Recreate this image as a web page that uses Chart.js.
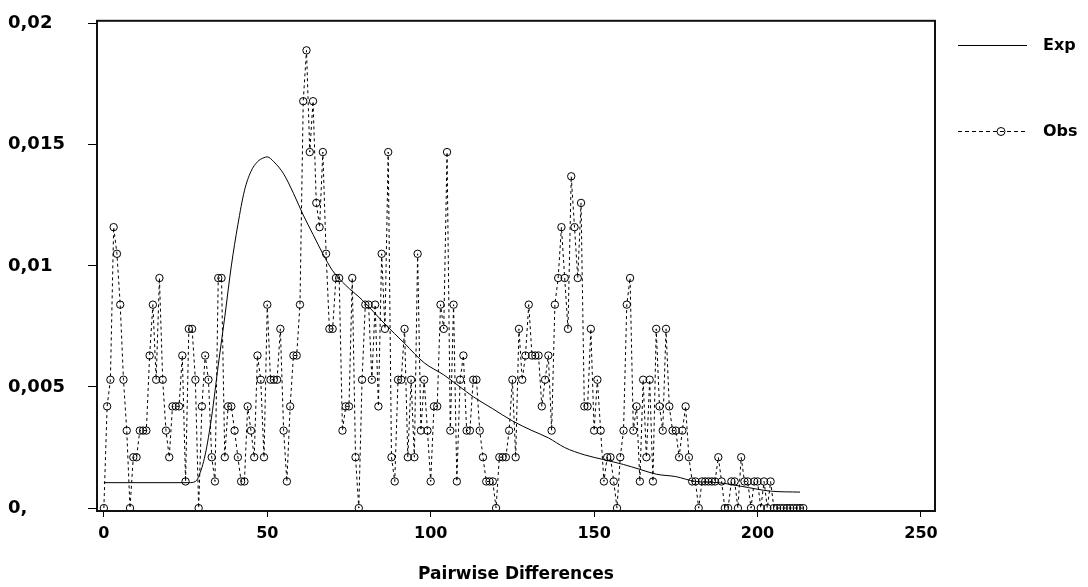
<!DOCTYPE html>
<html lang="en">
<head>
    <meta charset="UTF-8">
    <title>Mismatch Distribution</title>
    <style>
        body { margin: 0; background: #fff; }
        #wrap { width: 1088px; height: 587px; }
    </style>
</head>
<body>
    <div id="wrap"><canvas id="chart" width="1088" height="587"></canvas></div>

    <script src="https://cdn.jsdelivr.net/npm/chart.js"></script>
    <script>
        // pairwise differences (x) and observed frequencies
        const diffs = [
            0, 1, 2, 3, 4, 5, 6, 7, 8, 9, 10, 11, 12, 13, 14, 15, 16, 17, 18, 19,
            20, 21, 22, 23, 24, 25, 26, 27, 28, 29, 30, 31, 32, 33, 34, 35, 36, 37, 38, 39,
            40, 41, 42, 43, 44, 45, 46, 47, 48, 49, 50, 51, 52, 53, 54, 55, 56, 57, 58, 59,
            60, 61, 62, 63, 64, 65, 66, 67, 68, 69, 70, 71, 72, 73, 74, 75, 76, 77, 78, 79,
            80, 81, 82, 83, 84, 85, 86, 87, 88, 89, 90, 91, 92, 93, 94, 95, 96, 97, 98, 99,
            100, 101, 102, 103, 104, 105, 106, 107, 108, 109, 110, 111, 112, 113, 114, 115, 116, 117, 118, 119,
            120, 121, 122, 123, 124, 125, 126, 127, 128, 129, 130, 131, 132, 133, 134, 135, 136, 137, 138, 139,
            140, 141, 142, 143, 144, 145, 146, 147, 148, 149, 150, 151, 152, 153, 154, 155, 156, 157, 158, 159,
            160, 161, 162, 163, 164, 165, 166, 167, 168, 169, 170, 171, 172, 173, 174, 175, 176, 177, 178, 179,
            180, 181, 182, 183, 184, 185, 186, 187, 188, 189, 190, 191, 192, 193, 194, 195, 196, 197, 198, 199,
            200, 201, 202, 203, 204, 205, 206, 207, 208, 209, 210, 211, 212, 213, 214
        ];
        const obsFreq = [
            0, 0.0042, 0.0053, 0.0116, 0.0105, 0.0084, 0.0053, 0.0032, 0, 0.0021,
            0.0021, 0.0032, 0.0032, 0.0032, 0.0063, 0.0084, 0.0053, 0.0095, 0.0053, 0.0032,
            0.0021, 0.0042, 0.0042, 0.0042, 0.0063, 0.0011, 0.0074, 0.0074, 0.0053, 0,
            0.0042, 0.0063, 0.0053, 0.0021, 0.0011, 0.0095, 0.0095, 0.0021, 0.0042, 0.0042,
            0.0032, 0.0021, 0.0011, 0.0011, 0.0042, 0.0032, 0.0021, 0.0063, 0.0053, 0.0021,
            0.0084, 0.0053, 0.0053, 0.0053, 0.0074, 0.0032, 0.0011, 0.0042, 0.0063, 0.0063,
            0.0084, 0.0168, 0.0189, 0.0147, 0.0168, 0.0126, 0.0116, 0.0147, 0.0105, 0.0074,
            0.0074, 0.0095, 0.0095, 0.0032, 0.0042, 0.0042, 0.0095, 0.0021, 0, 0.0053,
            0.0084, 0.0084, 0.0053, 0.0084, 0.0042, 0.0105, 0.0074, 0.0147, 0.0021, 0.0011,
            0.0053, 0.0053, 0.0074, 0.0021, 0.0053, 0.0021, 0.0105, 0.0032, 0.0053, 0.0032,
            0.0011, 0.0042, 0.0042, 0.0084, 0.0074, 0.0147, 0.0032, 0.0084, 0.0011, 0.0053,
            0.0063, 0.0032, 0.0032, 0.0053, 0.0053, 0.0032, 0.0021, 0.0011, 0.0011, 0.0011,
            0, 0.0021, 0.0021, 0.0021, 0.0032, 0.0053, 0.0021, 0.0074, 0.0053, 0.0063,
            0.0084, 0.0063, 0.0063, 0.0063, 0.0042, 0.0053, 0.0063, 0.0032, 0.0084, 0.0095,
            0.0116, 0.0095, 0.0074, 0.0137, 0.0116, 0.0095, 0.0126, 0.0042, 0.0042, 0.0074,
            0.0032, 0.0053, 0.0032, 0.0011, 0.0021, 0.0021, 0.0011, 0, 0.0021, 0.0032,
            0.0084, 0.0095, 0.0032, 0.0042, 0.0011, 0.0053, 0.0021, 0.0053, 0.0011, 0.0074,
            0.0042, 0.0032, 0.0074, 0.0042, 0.0032, 0.0032, 0.0021, 0.0032, 0.0042, 0.0021,
            0.0011, 0.0011, 0, 0.0011, 0.0011, 0.0011, 0.0011, 0.0011, 0.0021, 0.0011,
            0, 0, 0.0011, 0.0011, 0, 0.0021, 0.0011, 0.0011, 0, 0.0011,
            0.0011, 0, 0.0011, 0, 0.0011, 0, 0, 0, 0, 0,
            0, 0, 0, 0, 0
        ];

        // expected curve, read at a set of x positions
        const expX = [0, 26, 28, 29, 31, 33, 35, 37, 39, 41, 43, 45, 47, 49, 50, 52, 55, 58, 61, 64,
            67, 70, 74, 79, 86, 92, 98, 104, 109, 113, 119, 125, 131, 136, 141, 147, 153, 159, 164, 169,
            175, 181, 188, 195, 204, 213];
        const expY = [0.00105, 0.00105, 0.0011, 0.0013, 0.0022, 0.0038, 0.0059, 0.0079, 0.0100, 0.0117,
            0.0131, 0.0139, 0.0143, 0.01447, 0.0145, 0.0143, 0.0138, 0.0130, 0.0121, 0.0113,
            0.0105, 0.0098, 0.0092, 0.0086, 0.0076, 0.0068, 0.0060, 0.0055, 0.0050, 0.0046,
            0.0041, 0.0036, 0.0032, 0.0029, 0.0025, 0.0022, 0.0020, 0.0018, 0.0016, 0.0014,
            0.0013, 0.0011, 0.00105, 0.0009, 0.0007, 0.00066];

        const xTicks = [0, 50, 100, 150, 200, 250];
        const yTicks = [0, 0.005, 0.01, 0.015, 0.02];
        const yTickLabels = ['0,', '0,005', '0,01', '0,015', '0,02'];

        const FONT = '"DejaVu Sans", sans-serif';

        // frame + legend drawn by hand (legend has a line sample with a marker)
        const framePlugin = {
            id: 'frame',
            afterDraw(chart) {
                const { ctx, chartArea: a } = chart;
                ctx.save();
                ctx.strokeStyle = '#111';
                ctx.lineWidth = 2;
                ctx.strokeRect(a.left, a.top, a.right - a.left, a.bottom - a.top);

                ctx.font = 'bold 16px ' + FONT;
                ctx.fillStyle = '#000';
                ctx.textBaseline = 'middle';

                // Exp
                ctx.lineWidth = 1;
                ctx.strokeStyle = '#000';
                ctx.beginPath();
                ctx.moveTo(958, 45.5);
                ctx.lineTo(1027, 45.5);
                ctx.stroke();
                ctx.fillText('Exp', 1043, 46);

                // Obs
                ctx.setLineDash([4, 3]);
                ctx.beginPath();
                ctx.moveTo(958, 131.5);
                ctx.lineTo(1027, 131.5);
                ctx.stroke();
                ctx.setLineDash([]);
                ctx.beginPath();
                ctx.arc(1001, 131.5, 4, 0, Math.PI * 2);
                ctx.stroke();
                ctx.fillText('Obs', 1043, 132);
                ctx.restore();
            }
        };

        const ctx = document.getElementById('chart').getContext('2d');
        const chart = new Chart(ctx, {
            type: 'scatter',
            data: {
                datasets: [{
                    label: 'Exp',
                    data: expX.map((x, i) => ({ x: x, y: expY[i] })),
                    showLine: true,
                    borderColor: '#000',
                    borderWidth: 1,
                    pointRadius: 0,
                    cubicInterpolationMode: 'monotone',
                    order: 1
                }, {
                    label: 'Obs',
                    data: diffs.map((x, i) => ({ x: x, y: obsFreq[i] })),
                    showLine: true,
                    borderColor: '#000',
                    borderWidth: 1,
                    borderDash: [3, 3],
                    pointRadius: 3.7,
                    pointBorderWidth: 1,
                    pointBorderColor: '#000',
                    pointBackgroundColor: 'rgba(0,0,0,0)',
                    order: 2
                }]
            },
            options: {
                responsive: false,
                animation: false,
                layout: { padding: { left: 8, right: 153, top: 15, bottom: 0 } },
                plugins: {
                    legend: { display: false },
                    tooltip: { enabled: false }
                },
                scales: {
                    x: {
                        type: 'linear',
                        min: -2.1,
                        max: 254.3,
                        afterBuildTicks: axis => { axis.ticks = xTicks.map(v => ({ value: v })); },
                        afterFit: axis => { axis.height = 76; },
                        border: { display: false },
                        grid: { drawOnChartArea: false, drawTicks: true, tickLength: 6, color: '#000' },
                        ticks: {
                            color: '#000',
                            padding: 7,
                            maxRotation: 0,
                            font: { family: FONT, size: 16, weight: 'bold' }
                        },
                        title: {
                            display: true,
                            text: 'Pairwise Differences',
                            color: '#000',
                            padding: { top: 0, bottom: 2 },
                            font: { family: FONT, size: 17, weight: 'bold' }
                        }
                    },
                    y: {
                        min: -0.00012,
                        max: 0.02012,
                        afterBuildTicks: axis => { axis.ticks = yTicks.map(v => ({ value: v })); },
                        afterFit: axis => { axis.width = 89; },
                        border: { display: false },
                        grid: { drawOnChartArea: false, drawTicks: true, tickLength: 9, color: '#000' },
                        ticks: {
                            color: '#000',
                            padding: 10,
                            crossAlign: 'far',
                            font: { family: FONT, size: 18, weight: 'bold' },
                            callback: (value, index) => yTickLabels[index]
                        }
                    }
                }
            },
            plugins: [framePlugin]
        });
    </script>
</body>
</html>
